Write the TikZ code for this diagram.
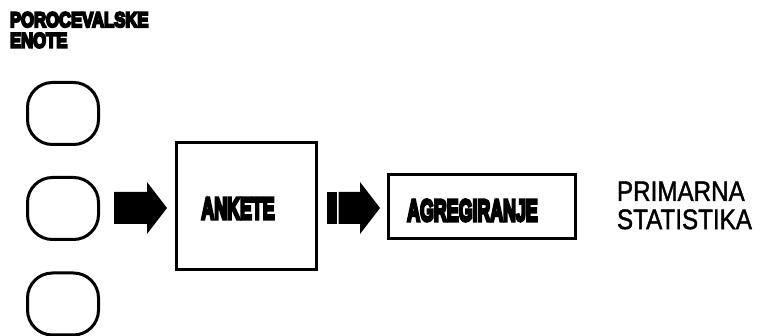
\documentclass[tikz,border=0pt]{standalone}
\usepackage{fontspec}
\usepackage{graphicx}
\setmainfont{Liberation Sans}
% heavy, blobby labels: Liberation Sans Bold thickened further
\newfontfamily\heavyfont{Liberation Sans}[BoldFeatures={FakeBold=10}]
% slightly heavier regular face for the result text
\newfontfamily\plainfont{Liberation Sans}[FakeBold=1.5]
\begin{document}
\begin{tikzpicture}[x=1pt,y=-1pt,
  unit/.style={draw=black,line width=3pt,rounded corners=25pt},
  procbox/.style={draw=black,line width=3pt},
  blockarrow/.style={fill=black,draw=none},
  lbl/.style={inner sep=0pt,outer sep=0pt}]
  \useasboundingbox[fill=white] (0,0) rectangle (760,336);

  % heading over the reporting units
  \node[lbl,anchor=base west] (head) at (10,27)
    {\scalebox{0.85}[1.08]{\heavyfont\bfseries\fontsize{19.6}{18.2}\selectfont
     \begin{tabular}[t]{@{}l@{}}POROCEVALSKE\\ENOTE\end{tabular}}};

  % reporting units
  \draw[unit] (27.5,82.5) rectangle (98.5,144.5);
  \draw[unit] (27.5,177.5) rectangle (98.5,239.5);
  \draw[unit] (27.5,273) rectangle (98.5,335);

  % survey box
  \draw[procbox] (176.5,142.5) rectangle (316.5,269.5);
  \node[lbl,anchor=base] (ank) at (238,219)
    {\scalebox{0.58}[1]{\heavyfont\bfseries\fontsize{30.7}{30}\selectfont ANKETE}};

  % aggregation box
  \draw[procbox] (388.5,174.5) rectangle (575.5,238.5);
  \node[lbl,anchor=base] (agr) at (472.5,221)
    {\scalebox{0.58}[1]{\heavyfont\bfseries\fontsize{30.7}{30}\selectfont AGREGIRANJE}};

  % block arrow: units -> surveys
  \fill[blockarrow] (114,192) -- (147,192) -- (147,182) -- (167,208)
    -- (147,234) -- (147,224) -- (114,224) -- cycle;

  % block arrow: surveys -> aggregation (split shaft)
  \fill[blockarrow] (327,192) rectangle (336.5,224);
  \fill[blockarrow] (338.5,192) -- (360,192) -- (360,182) -- (380,208)
    -- (360,234) -- (360,224) -- (338.5,224) -- cycle;

  % result
  \node[lbl,anchor=base west] (res) at (617,201)
    {\scalebox{1.03}[1.2]{\plainfont\fontsize{23.5}{23.3}\selectfont
     \begin{tabular}[t]{@{}l@{}}PRIMARNA\\STATISTIKA\end{tabular}}};
\end{tikzpicture}
\end{document}
